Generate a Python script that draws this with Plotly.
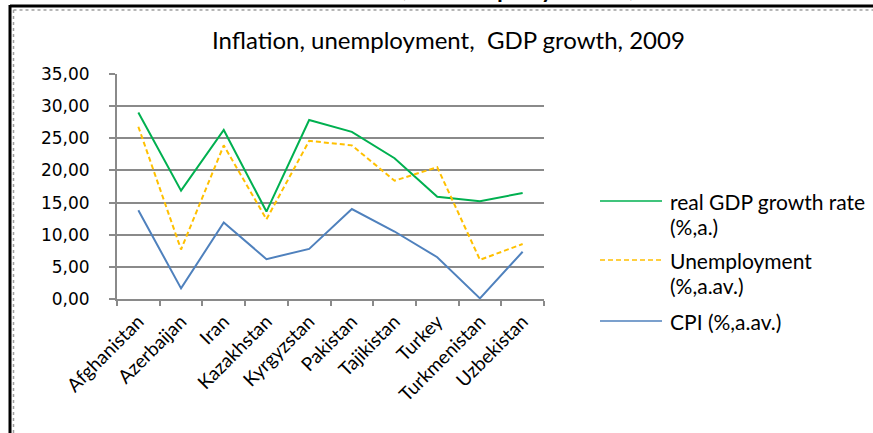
import plotly.graph_objects as go

countries = ["Afghanistan", "Azerbaijan", "Iran", "Kazakhstan", "Kyrgyzstan",
             "Pakistan", "Tajikistan", "Turkey", "Turkmenistan", "Uzbekistan"]
gdp = [29.0, 16.85, 26.3, 13.6, 27.85, 26.0, 21.9, 15.9, 15.2, 16.5]
unemployment = [26.8, 7.7, 23.9, 12.4, 24.6, 23.9, 18.4, 20.5, 6.1, 8.55]
cpi = [13.8, 1.65, 11.9, 6.2, 7.8, 14.0, 10.5, 6.5, 0.1, 7.35]
y_ticks = [0, 5, 10, 15, 20, 25, 30, 35]
y_tick_labels = ["0,00", "5,00", "10,00", "15,00", "20,00", "25,00", "30,00", "35,00"]

GREEN = "#00B050"
YELLOW = "#FFC000"
BLUE = "#4F81BD"

W, H = 873, 433
L, R, T, B = 117, 544, 74, 299


def px(x):
    return (x - L) / (R - L)


def py(y):
    return (B - y) / (B - T)


fig = go.Figure()
fig.add_trace(go.Scatter(x=countries, y=gdp, mode="lines", name="real GDP growth rate (%,a.)",
                         line=dict(color=GREEN, width=2)))
fig.add_trace(go.Scatter(x=countries, y=unemployment, mode="lines", name="Unemployment (%,a.av.)",
                         line=dict(color=YELLOW, width=2, dash="5px,3px")))
fig.add_trace(go.Scatter(x=countries, y=cpi, mode="lines", name="CPI (%,a.av.)",
                         line=dict(color=BLUE, width=2)))

fig.update_layout(
    width=W, height=H,
    margin=dict(l=L, r=W - R, t=T, b=H - B, autoexpand=False),
    paper_bgcolor="white", plot_bgcolor="white",
    showlegend=False,
    font=dict(family="Lato", color="black"),
)
fig.update_xaxes(type="category", range=[-0.5, len(countries) - 0.5], tickson="boundaries",
                 ticks="outside", ticklen=5,
                 tickcolor="#8a8a8a", tickwidth=1.5, showline=True, linecolor="#8a8a8a",
                 linewidth=2, showgrid=False, tickangle=-45, ticklabelstandoff=2,
                 tickfont=dict(family="Lato", size=19, color="black"))
fig.update_yaxes(range=[0, 35], tickvals=y_ticks, ticktext=y_tick_labels, ticks="outside",
                 ticklen=6, tickcolor="#8a8a8a", tickwidth=1.5, showline=True,
                 linecolor="#8a8a8a", linewidth=2, showgrid=True, gridcolor="#8a8a8a",
                 gridwidth=1.5, zeroline=False, ticklabelstandoff=16,
                 tickfont=dict(family="DejaVu Sans", size=17, color="black"))

# title
fig.add_annotation(text="Inflation, unemployment,  GDP growth, 2009", xref="paper", yref="paper",
                   x=px(448), y=py(40), xanchor="center", yanchor="middle", showarrow=False,
                   font=dict(family="Lato", size=24, color="black"))

# cropped fragment of a larger heading at the very top
fig.add_annotation(text=", unemployment,", xref="paper", yref="paper",
                   x=px(400), y=py(5), xanchor="left", yanchor="bottom", showarrow=False,
                   font=dict(family="Lato", size=32, color="black"))

# frame
fig.add_shape(type="line", xref="paper", yref="paper", x0=px(10), x1=px(880), y0=py(6), y1=py(6),
              line=dict(color="black", width=3))
fig.add_shape(type="line", xref="paper", yref="paper", x0=px(10), x1=px(10), y0=py(5), y1=py(440),
              line=dict(color="black", width=3))
fig.add_shape(type="line", xref="paper", yref="paper", x0=px(13.5), x1=px(880), y0=py(10), y1=py(10),
              line=dict(color="#a0a0a0", width=1.5, dash="dot"))
fig.add_shape(type="line", xref="paper", yref="paper", x0=px(13.5), x1=px(13.5), y0=py(10), y1=py(440),
              line=dict(color="#a0a0a0", width=1.5, dash="dot"))

# legend drawn manually
legend_items = [
    (GREEN, "solid", ["real GDP growth rate", "(%,a.)"], 201),
    (YELLOW, "5px,3px", ["Unemployment", "(%,a.av.)"], 260),
    (BLUE, "solid", ["CPI (%,a.av.)"], 321),
]
for color, dash, lines, ypix in legend_items:
    fig.add_shape(type="line", xref="paper", yref="paper", x0=px(600), x1=px(662),
                  y0=py(ypix), y1=py(ypix), line=dict(color=color, width=1.5, dash=dash))
    for i, t in enumerate(lines):
        fig.add_annotation(text=t, xref="paper", yref="paper", x=px(668), y=py(ypix + 25 * i),
                           xanchor="left", yanchor="middle", showarrow=False,
                           font=dict(family="Lato", size=21, color="black"))

fig.write_html("out.html")
